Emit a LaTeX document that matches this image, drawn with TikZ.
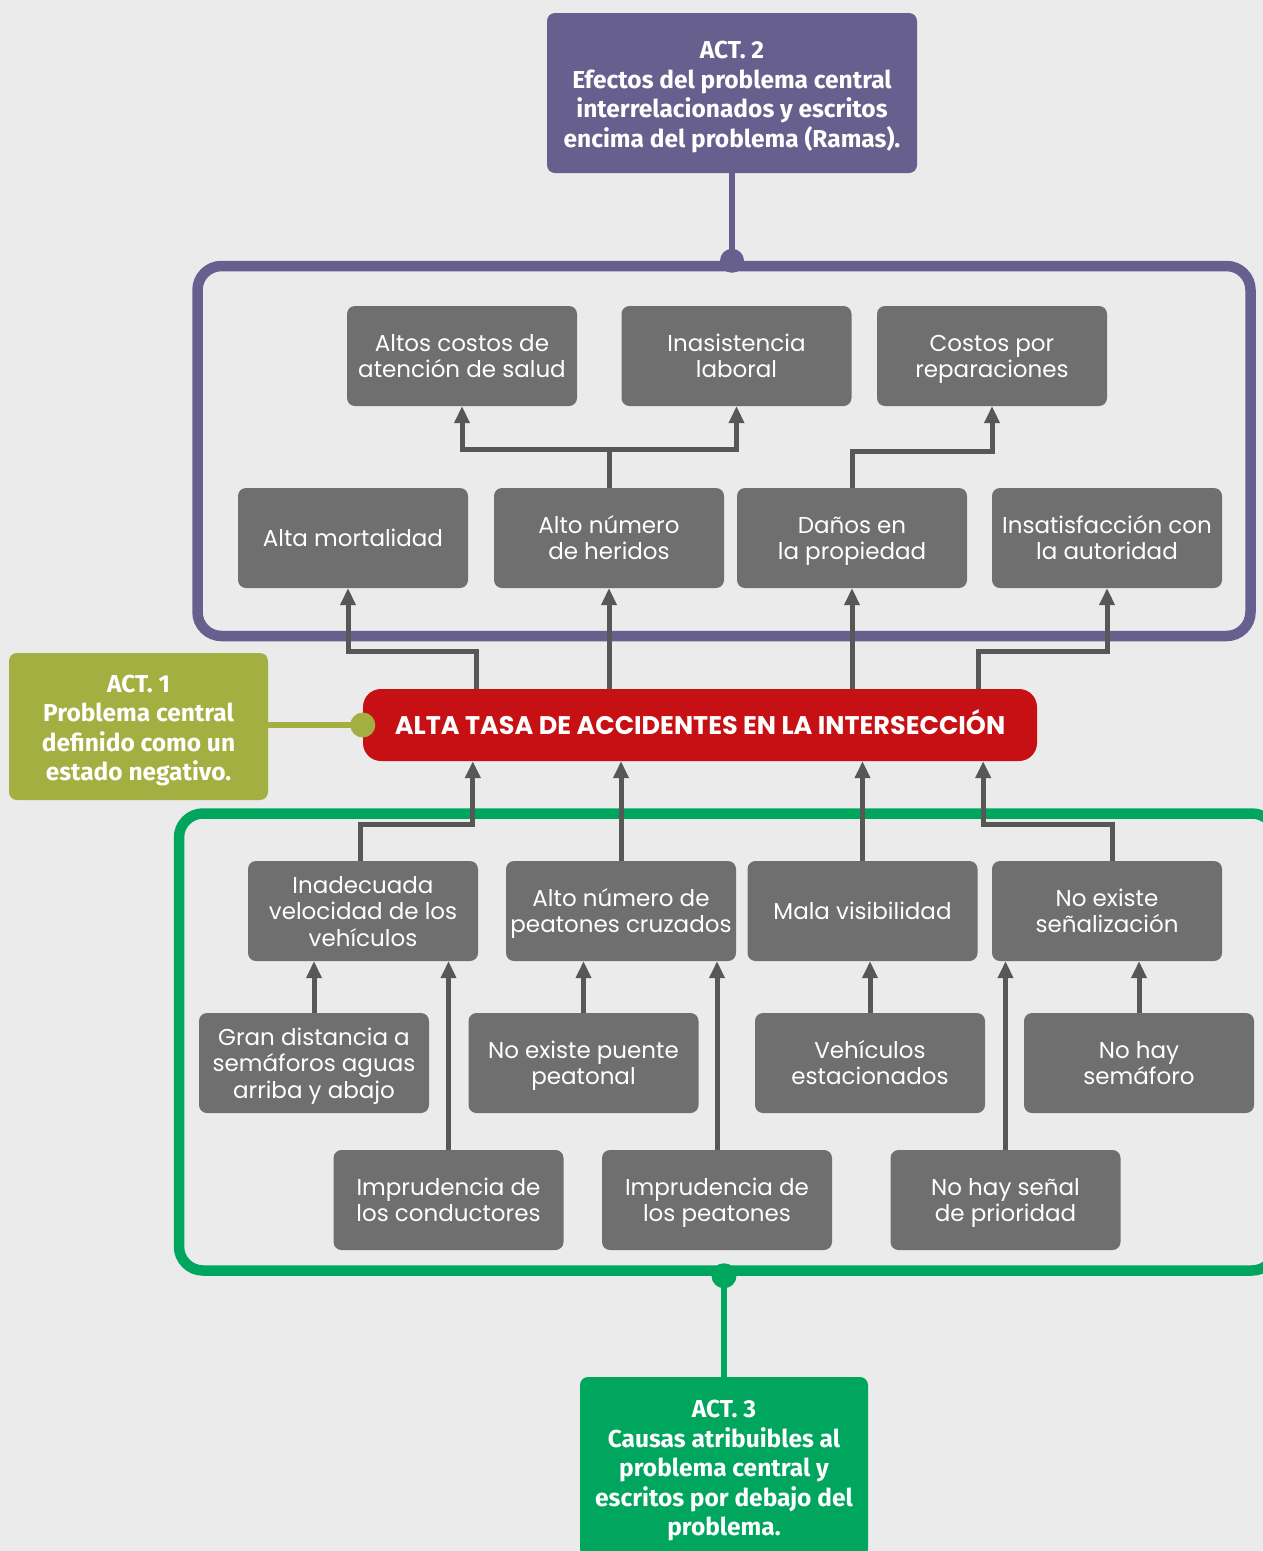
\documentclass[tikz,border=0pt]{standalone}
\usepackage{fontspec}
\setmainfont{Poppins}
\newfontfamily\actfont{Fira Sans}
\usetikzlibrary{arrows.meta,calc}
\definecolor{bgc}{HTML}{EBEBEB}
\definecolor{purp}{HTML}{67608E}
\definecolor{boxg}{HTML}{6F6F6F}
\definecolor{redc}{HTML}{C61013}
\definecolor{olive}{HTML}{A3AF41}
\definecolor{grn}{HTML}{00A65E}
\definecolor{conn}{HTML}{575757}
\newcommand\gtxt[1]{\rule{0pt}{23.5pt}#1\rule[-6.5pt]{0pt}{6.5pt}}
\newcommand\acttop{\rule{0pt}{25pt}}
\tikzset{
  gbox/.style={fill=boxg, rounded corners=8pt, minimum width=230pt, minimum height=100pt,
    text=white, align=center, inner sep=0pt, font=\fontsize{23}{26.5}\selectfont},
  actbox/.style={rounded corners=8pt, text=white, align=center, inner sep=0pt,
    font=\actfont\bfseries\fontsize{24.5}{29.5}\selectfont},
  frame/.style={draw, line width=10.5pt, rounded corners=24pt, inner sep=0pt},
  arr/.style={draw=conn, line width=5pt, -{Triangle[length=17pt,width=15pt]}},
  lnk/.style={line width=6pt},
}
\begin{document}
\begin{tikzpicture}[x=1pt,y=-1pt]
\useasboundingbox[fill=bgc] (0,0) rectangle (1263,1551);

% frames
\node[frame, draw=purp, minimum width=1053pt, minimum height=370pt] (pframe) at (724,451) {};
\node[frame, draw=grn, minimum width=1097pt, minimum height=457pt] (gframe) at (727.5,1042) {};

% ACT boxes
\node[actbox, fill=purp, minimum width=370pt, minimum height=160pt] (act2) at (732,93)
  {\acttop ACT. 2\\Efectos del problema central\\interrelacionados y escritos\\encima del problema (Ramas).};
\node[actbox, fill=olive, minimum width=259pt, minimum height=147pt] (act1) at (138.5,726.5)
  {\acttop ACT. 1\\Problema central\\definido como un\\estado negativo.};
\node[actbox, fill=grn, minimum width=288pt, minimum height=180pt] (act3) at (724,1467)
  {\acttop ACT. 3\\Causas atribuibles al\\problema central y\\escritos por debajo del\\problema.};

% central problem
\node[fill=redc, rounded corners=18pt, minimum width=674pt, minimum height=72pt, inner sep=0pt,
  text height=18pt, text depth=0pt,
  text=white, font=\bfseries\fontsize{25.5}{28}\selectfont] (red) at (700,725)
  {ALTA TASA DE ACCIDENTES EN LA INTERSECCIÓN};

% effects
\node[gbox] (altos) at (462,356) {\gtxt{Altos costos de\\atención de salud}};
\node[gbox] (inas) at (736.5,356) {\gtxt{Inasistencia\\laboral}};
\node[gbox] (costos) at (992,356) {\gtxt{Costos por\\reparaciones}};
\node[gbox] (mort) at (353,538) {\gtxt{Alta mortalidad}};
\node[gbox] (her) at (609,538) {\gtxt{Alto número\\de heridos}};
\node[gbox] (prop) at (852,538) {\gtxt{Daños en\\la propiedad}};
\node[gbox] (insat) at (1107,538) {\gtxt{Insatisfacción con\\la autoridad}};

% causes
\node[gbox] (inad) at (363,911) {\gtxt{Inadecuada\\velocidad de los\\vehículos}};
\node[gbox] (peat) at (621,911) {\gtxt{Alto número de\\peatones cruzados}};
\node[gbox] (vis) at (862.5,911) {\gtxt{Mala visibilidad}};
\node[gbox] (senal) at (1107,911) {\gtxt{No existe\\señalización}};
\node[gbox] (gran) at (314,1063) {\gtxt{Gran distancia a\\semáforos aguas\\arriba y abajo}};
\node[gbox] (puente) at (583.5,1063) {\gtxt{No existe puente\\peatonal}};
\node[gbox] (veh) at (870,1063) {\gtxt{Vehículos\\estacionados}};
\node[gbox] (sem) at (1139,1063) {\gtxt{No hay\\semáforo}};
\node[gbox] (cond) at (448.5,1200) {\gtxt{Imprudencia de\\los conductores}};
\node[gbox] (ipeat) at (717,1200) {\gtxt{Imprudencia de\\los peatones}};
\node[gbox] (prio) at (1005.5,1200) {\gtxt{No hay señal\\de prioridad}};

% ACT links
\draw[lnk, purp] (act2.south) -- (act2.south |- pframe.north);
\fill[purp] (act2.south |- pframe.north) circle (12pt);
\draw[lnk, olive] (red.west -| act1.east) -- (red.west);
\fill[olive] (red.west) circle (12.5pt);
\draw[lnk, grn] (act3.north) -- (act3.north |- gframe.south);
\fill[grn] (act3.north |- gframe.south) circle (12.5pt);

% effect arrows
\draw[arr] (her.north) -- ++(0,-38) -| (altos.south);
\draw[arr] (her.north) -- ++(0,-38) -| (inas.south);
\draw[arr] (prop.north) -- ++(0,-36) -| (costos.south);
\draw[arr] ([xshift=114pt]red.north west) -- ++(0,-37) -| ([xshift=-5pt]mort.south);
\draw[arr] (her.south |- red.north) -- (her.south);
\draw[arr] (prop.south |- red.north) -- (prop.south);
\draw[arr] ([xshift=-59pt]red.north east) -- ++(0,-37) -| (insat.south);

% cause arrows
\draw[arr] ([xshift=-3pt]inad.north) -- ++(0,-36) -| ([xshift=110pt]red.south west);
\draw[arr] (peat.north) -- (peat.north |- red.south);
\draw[arr] (vis.north) -- (vis.north |- red.south);
\draw[arr] ([xshift=5pt]senal.north) -- ++(0,-36) -| ([xshift=-54pt]red.south east);
\draw[arr] (gran.north) -- (gran.north |- inad.south);
\draw[arr] (cond.north) -- (cond.north |- inad.south);
\draw[arr] (puente.north) -- (puente.north |- peat.south);
\draw[arr] (ipeat.north) -- (ipeat.north |- peat.south);
\draw[arr] (veh.north) -- (veh.north |- vis.south);
\draw[arr] (prio.north) -- (prio.north |- senal.south);
\draw[arr] (sem.north) -- (sem.north |- senal.south);
\end{tikzpicture}
\end{document}
